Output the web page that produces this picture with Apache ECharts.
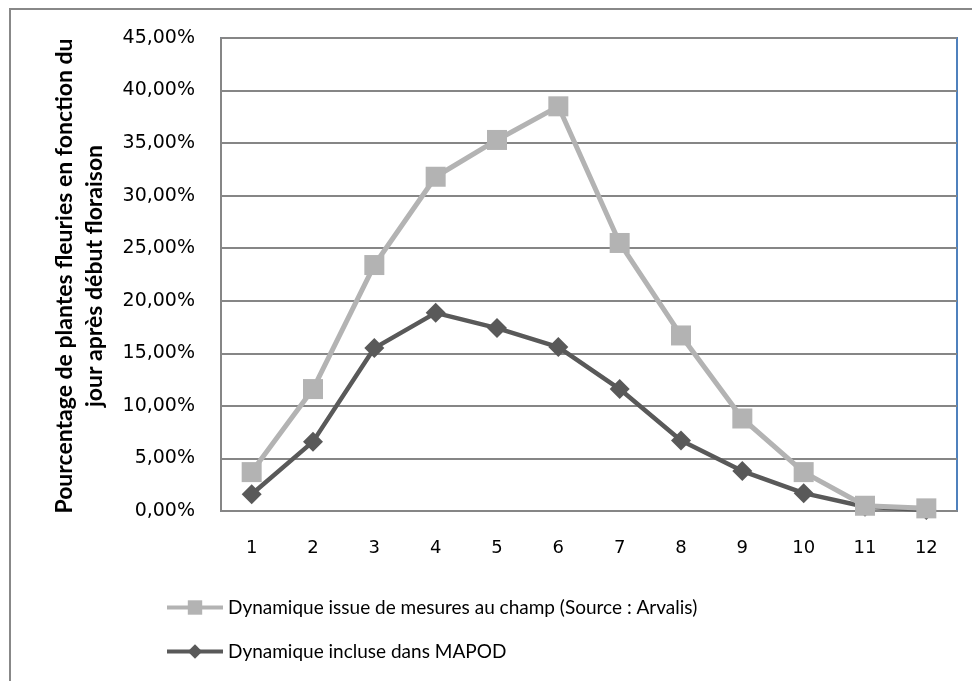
<!DOCTYPE html>
<html><head><meta charset="utf-8">
<script src="https://cdn.jsdelivr.net/npm/echarts@6/dist/echarts.min.js"></script>
<style>html,body{margin:0;padding:0;background:#fff}#c{width:972px;height:681px}</style>
</head><body><div id="c"></div>
<script>
const categories = ['1','2','3','4','5','6','7','8','9','10','11','12'];
const champ = [3.7, 11.6, 23.4, 31.8, 35.3, 38.5, 25.5, 16.7, 8.8, 3.7, 0.5, 0.25];
const mapod = [1.6, 6.6, 15.5, 18.85, 17.4, 15.6, 11.6, 6.7, 3.8, 1.7, 0.4, 0.1];
const seriesNames = ['Dynamique issue de mesures au champ (Source : Arvalis)', 'Dynamique incluse dans MAPOD'];
const yTitle = 'Pourcentage de plantes fleuries en fonction du\njour après début floraison';

const font = 'Lato, "Open Sans", sans-serif';
const numFont = '"DejaVu Sans", sans-serif';
const chart = echarts.init(document.getElementById('c'));
chart.setOption({
  animation: false,
  backgroundColor: '#fff',
  grid: {left: 221, right: 15, top: 38, bottom: 170, show: true, borderColor: '#4F81BD', borderWidth: 2, backgroundColor: 'transparent'},
  xAxis: {
    type: 'category', data: categories, boundaryGap: true,
    axisLine: {lineStyle: {color: '#868686', width: 2}},
    axisTick: {show: false},
    axisLabel: {color: '#000', fontSize: 18, fontFamily: numFont, margin: 28}
  },
  yAxis: {
    type: 'value', min: 0, max: 45, interval: 5,
    axisLine: {show: true, lineStyle: {color: '#868686', width: 2}},
    axisTick: {show: false},
    splitLine: {lineStyle: {color: '#868686', width: 2}},
    axisLabel: {color: '#000', fontSize: 19, fontFamily: numFont, margin: 26,
      formatter: v => v.toFixed(2).replace('.', ',') + '%'}
  },
  legend: {
    orient: 'vertical', left: 160, top: 593, itemGap: 25, itemWidth: 56, itemHeight: 18,
    lineStyle: {width: 4},
    textStyle: {color: '#000', fontSize: 19, fontFamily: font},
    data: seriesNames
  },
  graphic: [
    {type: 'rect', shape: {x: 10, y: 9, width: 1100, height: 1000}, style: {fill: 'none', stroke: '#888', lineWidth: 2}, silent: true},
    {type: 'text', x: 80, y: 276, rotation: Math.PI / 2,
      style: {text: yTitle, font: 'bold 23px ' + font, fill: '#000', textAlign: 'center', textVerticalAlign: 'middle', lineHeight: 30}}
  ],
  series: [
    {name: seriesNames[0], type: 'line', data: champ, symbol: 'rect', symbolSize: 20,
      lineStyle: {color: '#B3B3B3', width: 5}, itemStyle: {color: '#B3B3B3'}, z: 3},
    {name: seriesNames[1], type: 'line', data: mapod, symbol: 'diamond', symbolSize: 20,
      lineStyle: {color: '#595959', width: 4.5}, itemStyle: {color: '#595959'}, z: 2}
  ]
});
</script></body></html>
